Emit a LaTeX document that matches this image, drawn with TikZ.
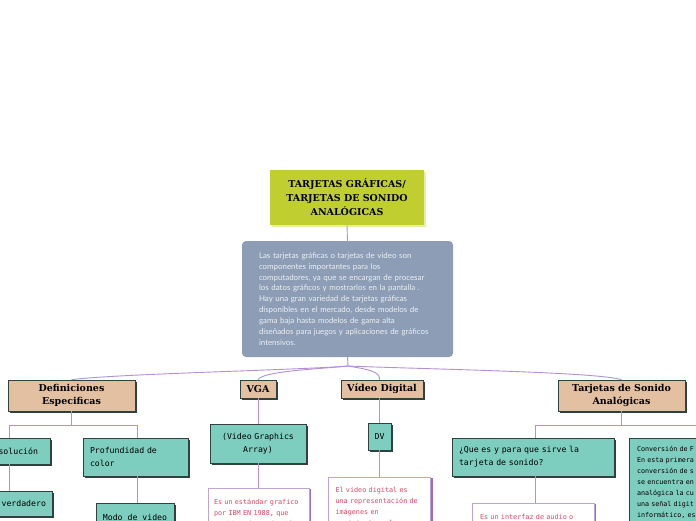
\documentclass[tikz,border=0pt]{standalone}
\usepackage{fontspec}
\setmainfont{Liberation Serif}
\newfontfamily\headfont{DejaVu Serif}
\newfontfamily\bodyfont{Lato}
\newfontfamily\monofont{DejaVu Sans Mono}
\usetikzlibrary{shadows}
\definecolor{titlegreen}{RGB}{192,207,47}
\definecolor{titleshadow}{RGB}{232,238,165}
\definecolor{slate}{RGB}{140,157,181}
\definecolor{slatetext}{RGB}{236,240,245}
\definecolor{tanfill}{RGB}{228,192,162}
\definecolor{tealfill}{RGB}{126,206,192}
\definecolor{darkshadow}{RGB}{48,66,62}
\definecolor{linkcol}{RGB}{180,145,210}
\definecolor{pinktext}{RGB}{214,72,104}
\definecolor{wborder}{RGB}{190,165,215}
\definecolor{wshadow}{RGB}{150,110,190}
\tikzset{
  link/.style={draw=linkcol,line width=0.9pt},
  titlebox/.style={fill=titlegreen,minimum width=154pt,minimum height=55pt,align=center,
    font=\headfont\bfseries\fontsize{9.5}{14}\selectfont,
    drop shadow={shadow xshift=2pt,shadow yshift=-2pt,fill=titleshadow,opacity=1}},
  slatebox/.style={fill=slate,rounded corners=4pt,minimum width=211pt,minimum height=116pt,
    text width=177pt,align=left,text=slatetext,font=\bodyfont\fontsize{7.9}{10.9}\selectfont},
  tanbox/.style={fill=tanfill,draw=darkshadow,line width=0.5pt,align=center,inner sep=2pt,
    font=\headfont\bfseries\fontsize{9.5}{13.5}\selectfont,
    drop shadow={shadow xshift=2pt,shadow yshift=-2pt,fill=darkshadow,opacity=1}},
  tealbox/.style={fill=tealfill,draw=darkshadow,line width=0.5pt,inner ysep=2pt,
    font=\monofont\fontsize{8.2}{13}\selectfont,
    drop shadow={shadow xshift=2pt,shadow yshift=-2pt,fill=darkshadow,opacity=1}},
  smallteal/.style={fill=tealfill,draw=darkshadow,line width=0.5pt,align=left,
    font=\monofont\fontsize{6.7}{11}\selectfont,
    drop shadow={shadow xshift=2pt,shadow yshift=-2pt,fill=darkshadow,opacity=1}},
  wbox/.style={fill=white,draw=wborder,line width=0.8pt,align=left,text=pinktext,
    font=\monofont\fontsize{6.8}{11}\selectfont,
    drop shadow={shadow xshift=2pt,shadow yshift=-1pt,fill=wshadow,opacity=1}},
}
\begin{document}
\begin{tikzpicture}[x=1pt,y=-1pt]
\fill[white] (0,0) rectangle (696,520);
\useasboundingbox (0,0) rectangle (696,520);
\clip (0,0) rectangle (696,520);

% main nodes
\node[titlebox] (title) at (347,197.5) {TARJETAS GRÁFICAS/\\TARJETAS DE SONIDO\\ANALÓGICAS};
\node[slatebox] (desc) at (347.5,299) {Las tarjetas gráficas o tarjetas de video son\\componentes importantes para los\\computadores, ya que se encargan de procesar\\los datos gráficos y mostrarlos en la pantalla .\\Hay una gran variedad de tarjetas gráficas\\disponibles en el mercado, desde modelos de\\gama baja hasta modelos de gama alta\\diseñados para juegos y aplicaciones de gráficos\\intensivos.};
\coordinate (bp) at (348,366);

% level 2
\node[tanbox,minimum width=127pt,minimum height=31pt] (def) at (71.5,395.5) {Definiciones\\Especificas};
\node[tanbox,minimum width=36pt,minimum height=18pt] (vga) at (258,389) {VGA};
\node[tanbox,minimum width=82pt,minimum height=18pt] (vd) at (382,389) {Vídeo Digital};
\node[tanbox,minimum width=127pt,minimum height=31pt] (ts) at (621.5,395.5) {Tarjetas de Sonido\\Analógicas};

% Definiciones subtree
\coordinate (dl) at (9,425);
\coordinate (dr) at (137,425);
\node[tealbox,minimum width=84pt,minimum height=26pt,text width=60pt,inner xsep=12pt,align=right] (res) at (8,451) {Resolución};
\node[tealbox,minimum width=105pt,minimum height=38pt,text width=91pt,inner xsep=7pt,align=left] (prof) at (135.5,457) {Profundidad de\\color};
\node[tealbox,minimum width=82pt,minimum height=25pt,text width=70pt,inner xsep=6pt,align=right] (verd) at (11,503.5) {verdadero};
\node[tealbox,minimum width=78pt,minimum height=28pt] (modo) at (135,517) {Modo de video};

% VGA subtree
\node[tealbox,minimum width=96pt,minimum height=39pt,text width=82pt,inner xsep=7pt,align=center] (vgat) at (258,443.5) {(Video Graphics\\Array)};
\node[wbox,anchor=north,text width=89pt,inner xsep=6pt,inner ysep=11pt] (vgad) at (258.5,488) {Es un estándar grafico\\por IBM EN 1988, que\\cambiara la evolución};

% Video digital subtree
\node[tealbox,minimum width=23pt,minimum height=27pt,inner xsep=2pt] (dv) at (379.5,436.5) {DV};
\node[wbox,anchor=north,text width=88pt,inner xsep=7pt,inner ysep=9.5pt] (dvd) at (379.5,477) {El video digital es\\una representación de\\imágenes en\\movimiento en la};

% Tarjetas de sonido subtree
\coordinate (tl) at (535,425);
\coordinate (tr) at (709,425);
\node[tealbox,minimum width=162pt,minimum height=38pt,text width=148pt,inner xsep=7pt,align=left] (que) at (533,457) {¿Que es y para que sirve la\\tarjeta de sonido?};
\node[wbox,anchor=north,text width=106pt,inner xsep=8pt,inner ysep=10.5pt] (sd) at (533,503) {Es un interfaz de audio o};
\node[smallteal,anchor=north,text width=144pt,inner xsep=8pt,inner ysep=8pt] (conv) at (709,438) {Conversión de F\\En esta primera\\conversión de s\\se encuentra en\\analógica la cu\\una señal digit\\informático, es};

% connectors
\draw[link] (title.south) -- (desc.north);
\draw[link] (desc.south) -- (bp);
\draw[link] (bp) .. controls (300,370) and (110,374) .. (def.north);
\draw[link] (bp) .. controls (320,369) and (262,371) .. (vga.north);
\draw[link] (bp) .. controls (365,369) and (381,371) .. (vd.north -| dv.north);
\draw[link] (bp) .. controls (420,369) and (600,372) .. (ts.north);

\draw[link] (def.south) -- (def.south |- dl);
\draw[link] (dl) -- (dr);
\draw[link] (dl) -- (dl |- res.north);
\draw[link] (dr) -- (dr |- prof.north);
\draw[link] (dl |- res.south) -- (dl |- verd.north);
\draw[link] (dr |- prof.south) -- (dr |- modo.north);

\draw[link] (vga.south) -- (vgat.north);
\draw[link] (vgat.south) -- (vgat.south |- vgad.north);

\draw[link] (vd.south -| dv.north) -- (dv.north);
\draw[link] (dv.south) -- (dv.south |- dvd.north);

\draw[link] (ts.south) -- (ts.south |- tl);
\draw[link] (tl) -- (tr);
\draw[link] (tl) -- (tl |- que.north);
\draw[link] (tr) -- (tr |- conv.north);
\draw[link] (tl |- que.south) -- (tl |- sd.north);
\end{tikzpicture}
\end{document}
